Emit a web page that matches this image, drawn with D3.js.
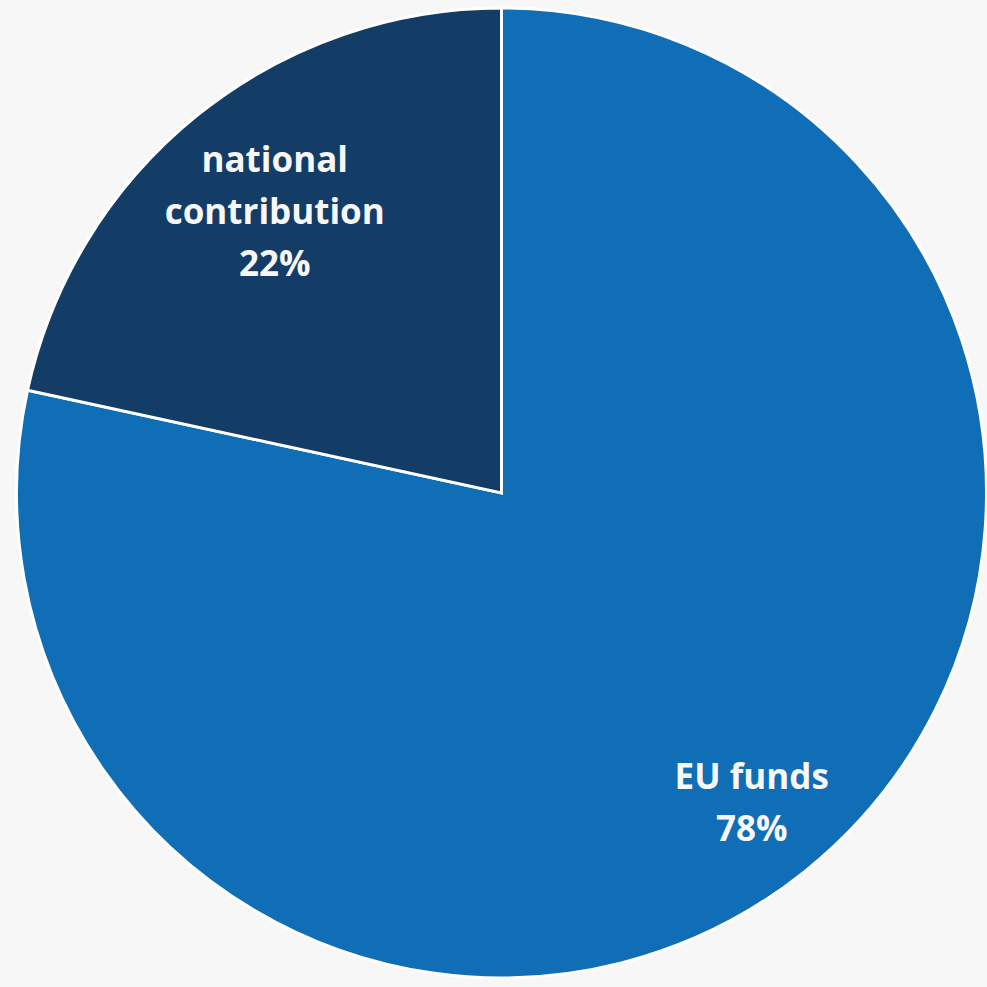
<!DOCTYPE html>
<html>
<head>
<meta charset="utf-8">
<script src="https://cdn.jsdelivr.net/npm/d3@7/dist/d3.min.js"></script>
<style>
  html, body { margin: 0; padding: 0; background: #f7f7f7; }
  svg { display: block; }
</style>
</head>
<body>
<svg id="chart" width="987" height="987"></svg>
<script>
const categories = ["EU funds", "national contribution"];
const labelLines = [["EU funds"], ["national", "contribution"]];
const values = [78.4, 21.6];
const colors = ["#106eb6", "#133c66"];

const W = 987, H = 987;
const cx = 501.5, cy = 493, R = 485;
const labelRadiusFactor = [0.822, 0.745];

const svg = d3.select("#chart");
svg.append("rect").attr("width", W).attr("height", H).attr("fill", "#f7f7f7");

const data = categories.map((c, i) => ({ name: c, value: values[i], i }));
const pie = d3.pie().value(d => d.value).sort(null).startAngle(0).endAngle(2 * Math.PI);
const arcs = pie(data);
const arc = d3.arc().innerRadius(0).outerRadius(R);

const g = svg.append("g").attr("transform", `translate(${cx},${cy})`);

g.selectAll("path.slice")
  .data(arcs)
  .join("path")
  .attr("class", "slice")
  .attr("d", arc)
  .attr("fill", d => colors[d.data.i])
  .attr("stroke", "#ffffff")
  .attr("stroke-width", 3)
  .attr("stroke-linejoin", "miter");

const total = d3.sum(values);
const lineH = 52;
arcs.forEach(a => {
  const i = a.data.i;
  const lr = R * labelRadiusFactor[i];
  const la = d3.arc().innerRadius(lr).outerRadius(lr);
  const [lx, ly] = la.centroid(a);
  const lines = labelLines[i].concat([Math.round(a.data.value / total * 100) + "%"]);
  const n = lines.length;
  const t = g.append("text")
    .attr("x", lx)
    .attr("y", ly)
    .attr("text-anchor", "middle")
    .attr("fill", "#f7f7f7")
    .attr("font-family", "'Open Sans', sans-serif")
    .attr("font-weight", 700)
    .attr("font-size", 35);
  lines.forEach((s, k) => {
    t.append("tspan")
      .attr("x", lx)
      .attr("y", ly + (k - (n - 1) / 2) * lineH + 12)
      .text(s);
  });
});
</script>
</body>
</html>
